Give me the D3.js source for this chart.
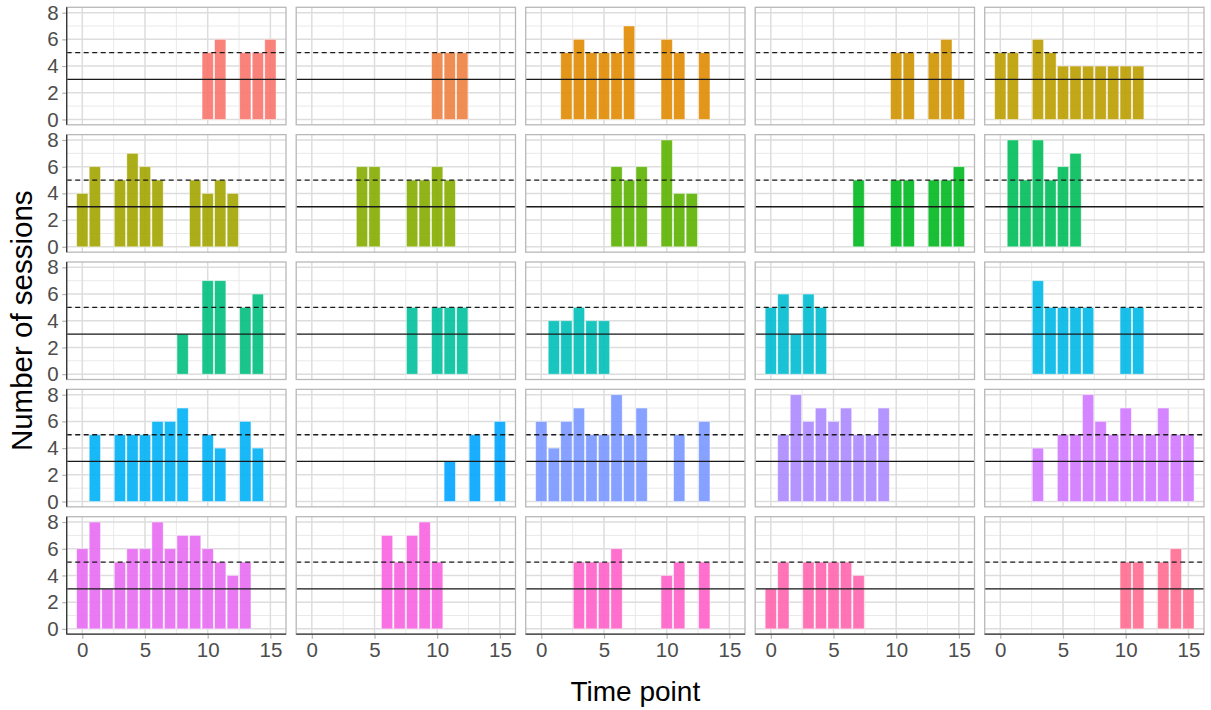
<!DOCTYPE html>
<html>
<head>
<meta charset="utf-8">
<script src="https://cdn.jsdelivr.net/npm/d3@7"></script>
<style>
  html, body { margin: 0; padding: 0; background: #ffffff; }
  svg { display: block; }
  text { font-family: "Liberation Sans", Arial, sans-serif; }
</style>
</head>
<body>
<svg id="chart" width="1211" height="710"></svg>
<script>
// Time points shared by every participant panel
const timePoints = [0, 1, 2, 3, 4, 5, 6, 7, 8, 9, 10, 11, 12, 13, 14, 15];

// Sessions per time point for each of the 25 participants (null = no record)
const _ = null;
const sessions = [
  [_, _, _, _, _, _, _, _, _, _, 5, 6, _, 5, 5, 6],
  [_, _, _, _, _, _, _, _, _, _, 5, 5, 5, _, _, _],
  [_, _, 5, 6, 5, 5, 5, 7, _, _, 6, 5, _, 5, _, _],
  [_, _, _, _, _, _, _, _, _, _, 5, 5, _, 5, 6, 3],
  [5, 5, _, 6, 5, 4, 4, 4, 4, 4, 4, 4, _, _, _, _],
  [4, 6, _, 5, 7, 6, 5, _, _, 5, 4, 5, 4, _, _, _],
  [_, _, _, _, 6, 6, _, _, 5, 5, 6, 5, _, _, _, _],
  [_, _, _, _, _, _, 6, 5, 6, _, 8, 4, 4, _, _, _],
  [_, _, _, _, _, _, _, 5, _, _, 5, 5, _, 5, 5, 6],
  [_, 8, 5, 8, 5, 6, 7, _, _, _, _, _, _, _, _, _],
  [_, _, _, _, _, _, _, _, 3, _, 7, 7, _, 5, 6, _],
  [_, _, _, _, _, _, _, _, 5, _, 5, 5, 5, _, _, _],
  [_, 4, 4, 5, 4, 4, _, _, _, _, _, _, _, _, _, _],
  [5, 6, 3, 6, 5, _, _, _, _, _, _, _, _, _, _, _],
  [_, _, _, 7, 5, 5, 5, 5, _, _, 5, 5, _, _, _, _],
  [_, 5, _, 5, 5, 5, 6, 6, 7, _, 5, 4, _, 6, 4, _],
  [_, _, _, _, _, _, _, _, _, _, _, 3, _, 5, _, 6],
  [6, 4, 6, 7, 5, 5, 8, 5, 7, _, _, 5, _, 6, _, _],
  [_, 5, 8, 6, 7, 6, 7, 5, 5, 7, _, _, _, _, _, _],
  [_, _, _, 4, _, 5, 5, 8, 6, 5, 7, 5, 5, 7, 5, 5],
  [6, 8, 3, 5, 6, 6, 8, 6, 7, 7, 6, 5, 4, 5, _, _],
  [_, _, _, _, _, _, 7, 5, 7, 8, 5, _, _, _, _, _],
  [_, _, _, 5, 5, 5, 6, _, _, _, 4, 5, _, 5, _, _],
  [3, 5, _, 5, 5, 5, 5, 4, _, _, _, _, _, _, _, _],
  [_, _, _, _, _, _, _, _, _, _, 5, 5, _, 5, 6, 3]
];

// Axis ticks and horizontal reference levels
const xTicks = [0, 5, 10, 15];
const xMinorTicks = [2.5, 7.5, 12.5];
const yTicks = [0, 2, 4, 6, 8];
const yMinorTicks = [1, 3, 5, 7];
const minimumLine = 3;   // solid
const targetLine = 5;    // dashed

const xTitle = "Time point";
const yTitle = "Number of sessions";

// ---- layout ----
const nCols = 5, nRows = 5;
const marginLeft = 66.7, marginTop = 7.3;
const panelW = 219.3, panelH = 117.5;
const gapX = 10.2, gapY = 9.85;
const barWidth = 0.9;

// Evenly spaced hues in CIE-LUV polar coordinates (l = 65, c = 100)
function polarLuvHex(h, c, l) {
  const Xn = 95.047, Yn = 100.0, Zn = 108.883;
  const hr = h * Math.PI / 180;
  const U = c * Math.cos(hr), V = c * Math.sin(hr);
  const Y = Yn * (l > 7.999592 ? Math.pow((l + 16) / 116, 3) : l / 903.3);
  const t = Xn + Yn + Zn, x = Xn / t, y = Yn / t;
  const uN = 2 * x / (6 * y - x + 1.5), vN = 4.5 * y / (6 * y - x + 1.5);
  const u = U / (13 * l) + uN, v = V / (13 * l) + vN;
  const X = 9.0 * Y * u / (4 * v);
  const Z = -X / 3 - 5 * Y + 3 * Y / v;
  const g = a => a > 0.00304 ? 1.055 * Math.pow(a, 1 / 2.4) - 0.055 : 12.92 * a;
  const cl = a => Math.max(0, Math.min(1, a));
  const r = cl(g((3.240479 * X - 1.537150 * Y - 0.498535 * Z) / Yn));
  const gg = cl(g((-0.969256 * X + 1.875992 * Y + 0.041556 * Z) / Yn));
  const b = cl(g((0.055648 * X - 0.204043 * Y + 1.057311 * Z) / Yn));
  return d3.rgb(r * 255, gg * 255, b * 255).formatHex();
}
const palette = sessions.map((s, i) => polarLuvHex(15 + 360 * i / sessions.length, 100, 65));

const svg = d3.select("#chart");

// Shared scales (fixed across facets)
const x = d3.scaleLinear()
  .domain([timePoints[0] - barWidth / 2 - 0.795, timePoints[timePoints.length - 1] + barWidth / 2 + 0.795])
  .range([0, panelW]);
const y = d3.scaleLinear().domain([-0.4, 8.4]).range([panelH, 0]);

sessions.forEach((series, i) => {
  const col = i % nCols, row = Math.floor(i / nCols);
  const px = marginLeft + col * (panelW + gapX);
  const py = marginTop + row * (panelH + gapY);
  const g = svg.append("g").attr("transform", `translate(${px},${py})`);

  // minor grid
  g.selectAll(".xminor").data(xMinorTicks).join("line")
    .attr("x1", d => x(d)).attr("x2", d => x(d)).attr("y1", 0).attr("y2", panelH)
    .attr("stroke", "#e9e9e9").attr("stroke-width", 1);
  g.selectAll(".yminor").data(yMinorTicks).join("line")
    .attr("y1", d => y(d)).attr("y2", d => y(d)).attr("x1", 0).attr("x2", panelW)
    .attr("stroke", "#e9e9e9").attr("stroke-width", 1);
  // major grid
  g.selectAll(".xmajor").data(xTicks).join("line")
    .attr("x1", d => x(d)).attr("x2", d => x(d)).attr("y1", 0).attr("y2", panelH)
    .attr("stroke", "#dddddd").attr("stroke-width", 1.5);
  g.selectAll(".ymajor").data(yTicks).join("line")
    .attr("y1", d => y(d)).attr("y2", d => y(d)).attr("x1", 0).attr("x2", panelW)
    .attr("stroke", "#dddddd").attr("stroke-width", 1.5);

  // bars
  const pts = timePoints.map((t, k) => ({ t, v: series[k] })).filter(d => d.v !== null);
  g.selectAll("rect.bar").data(pts).join("rect")
    .attr("class", "bar")
    .attr("x", d => x(d.t - barWidth / 2))
    .attr("width", d => x(d.t + barWidth / 2) - x(d.t - barWidth / 2))
    .attr("y", d => y(d.v))
    .attr("height", d => y(0) - y(d.v))
    .attr("fill", palette[i])
    .attr("fill-opacity", 0.9)
    .attr("stroke", "#ffffff")
    .attr("stroke-opacity", 0.55)
    .attr("stroke-width", 0.8);

  // reference lines
  g.append("line")
    .attr("x1", 0).attr("x2", panelW).attr("y1", y(minimumLine)).attr("y2", y(minimumLine))
    .attr("stroke", "#1a1a1a").attr("stroke-width", 1.3);
  g.append("line")
    .attr("x1", 0).attr("x2", panelW).attr("y1", y(targetLine)).attr("y2", y(targetLine))
    .attr("stroke", "#1a1a1a").attr("stroke-width", 1.3).attr("stroke-dasharray", "5,3.5");

  // panel border
  g.append("rect")
    .attr("x", 0).attr("y", 0).attr("width", panelW).attr("height", panelH)
    .attr("fill", "none").attr("stroke", "#b8b8b8").attr("stroke-width", 1.3);

  // left axis on first column
  if (col === 0) {
    const ya = g.append("g").call(d3.axisLeft(y).tickValues(yTicks).tickSize(4.5).tickPadding(3.5).tickFormat(d3.format("d")));
    ya.select(".domain").remove();
    ya.selectAll(".tick line").attr("stroke", "#b3b3b3").attr("stroke-width", 1.2);
    ya.selectAll(".tick text").attr("fill", "#4d4d4d").attr("font-size", 20.5)
      .attr("font-family", "'Liberation Sans', Arial, sans-serif");
    g.append("line").attr("x1", 0).attr("x2", 0).attr("y1", 0).attr("y2", panelH)
      .attr("stroke", "#333333").attr("stroke-width", 1.3);
  }
  // bottom axis on last row
  if (row === nRows - 1) {
    const xa = g.append("g").attr("transform", `translate(0,${panelH})`)
      .call(d3.axisBottom(x).tickValues(xTicks).tickSize(4.5).tickPadding(4).tickFormat(d3.format("d")));
    xa.select(".domain").remove();
    xa.selectAll(".tick line").attr("stroke", "#b3b3b3").attr("stroke-width", 1.2);
    xa.selectAll(".tick text").attr("fill", "#4d4d4d").attr("font-size", 20.5)
      .attr("font-family", "'Liberation Sans', Arial, sans-serif");
    g.append("line").attr("x1", 0).attr("x2", panelW).attr("y1", panelH).attr("y2", panelH)
      .attr("stroke", "#333333").attr("stroke-width", 1.3);
  }
});

// axis titles
const plotRight = marginLeft + nCols * panelW + (nCols - 1) * gapX;
const plotBottom = marginTop + nRows * panelH + (nRows - 1) * gapY;
svg.append("text")
  .attr("x", (marginLeft + plotRight) / 2).attr("y", 701)
  .attr("text-anchor", "middle").attr("font-size", 28).attr("fill", "#000")
  .text(xTitle);
svg.append("text")
  .attr("transform", `translate(32,${(marginTop + plotBottom) / 2}) rotate(-90)`)
  .attr("text-anchor", "middle").attr("font-size", 29.5).attr("fill", "#000")
  .text(yTitle);
</script>
</body>
</html>
